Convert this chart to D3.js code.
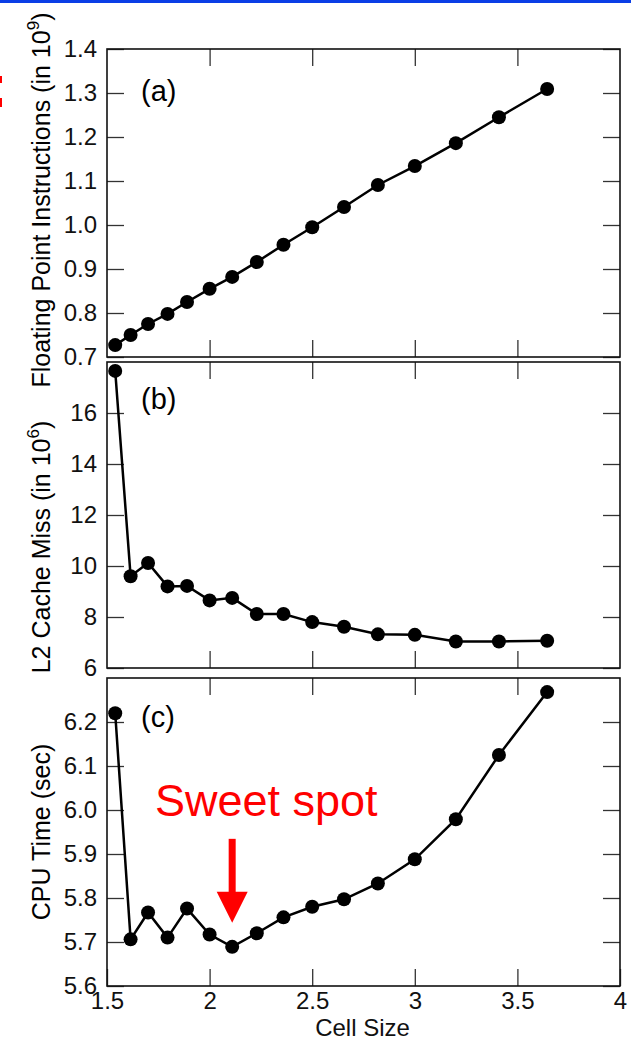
<!DOCTYPE html>
<html>
<head>
<meta charset="utf-8">
<script src="https://cdn.jsdelivr.net/npm/d3@7"></script>
<style>
  body { margin: 0; background: #fff; }
  svg { display: block; font-family: "Liberation Sans", Arial, Helvetica, sans-serif; }
</style>
</head>
<body>
<svg></svg>
<script>
// cell size (x) shared by the three panels
var cellSize = [1.54, 1.615, 1.70, 1.795, 1.89, 2.0, 2.11, 2.23, 2.36, 2.5, 2.655, 2.82, 3.0, 3.2, 3.41, 3.645];
var flops = [0.727, 0.750, 0.775, 0.798, 0.825, 0.855, 0.882, 0.916, 0.955, 0.995, 1.041, 1.091, 1.134, 1.186, 1.245, 1.309];
var cacheMiss = [17.65, 9.6, 10.12, 9.2, 9.22, 8.65, 8.75, 8.12, 8.12, 7.8, 7.62, 7.32, 7.3, 7.04, 7.04, 7.07];
var cpuTime = [6.22, 5.706, 5.767, 5.71, 5.776, 5.717, 5.689, 5.72, 5.756, 5.78, 5.797, 5.833, 5.888, 5.979, 6.125, 6.268];

var xTicks = [1.5, 2, 2.5, 3, 3.5, 4];
var flopsTicks = [0.7, 0.8, 0.9, 1.0, 1.1, 1.2, 1.3, 1.4];
var missTicks = [6, 8, 10, 12, 14, 16];
var cpuTicks = [5.6, 5.7, 5.8, 5.9, 6.0, 6.1, 6.2];

var width = 631, height = 1042;
var left = 107, right = 620, tickLen = 17;

var svg = d3.select('svg')
  .attr('width', width)
  .attr('height', height);

svg.append('rect').attr('x', 0).attr('y', 0).attr('width', width).attr('height', 3).attr('fill', '#0b3ee6');
// bits of red from the slide edge
svg.append('rect').attr('x', 0).attr('y', 76).attr('width', 2).attr('height', 7).attr('fill', '#f00');
svg.append('rect').attr('x', 0).attr('y', 98).attr('width', 2).attr('height', 9).attr('fill', '#f00');

var x = d3.scaleLinear().domain([1.5, 4]).range([left, right]);

var panels = [
  { name: '(a)', values: flops, domain: [0.7, 1.4], ticks: flopsTicks, fmt: d3.format('.1f'),
    top: 49, bottom: 357, title: 'Floating Point Instructions (in 10', sup: '9', titleY: 200, labelY: 101 },
  { name: '(b)', values: cacheMiss, domain: [6, 18], ticks: missTicks, fmt: d3.format('d'),
    top: 362, bottom: 668, title: 'L2 Cache Miss (in 10', sup: '6', titleY: 547, labelY: 409 },
  { name: '(c)', values: cpuTime, domain: [5.6, 6.3], ticks: cpuTicks, fmt: d3.format('.1f'),
    top: 678, bottom: 986, title: 'CPU Time (sec)', sup: null, titleY: 832, labelY: 727 }
];

function styleAxis(g) {
  g.select('.domain').remove();
  g.selectAll('line').attr('stroke', '#333').attr('stroke-width', 1.3);
  g.selectAll('text').attr('fill', '#111');
  g.attr('font-size', 24).attr('font-family', null);
}

panels.forEach(function (p, i) {
  var y = d3.scaleLinear().domain(p.domain).range([p.bottom, p.top]);
  var g = svg.append('g');

  g.append('g')
    .attr('transform', 'translate(' + left + ',0)')
    .call(d3.axisLeft(y).tickValues(p.ticks).tickSize(-tickLen).tickPadding(10).tickFormat(p.fmt))
    .call(styleAxis);
  g.append('g')
    .attr('transform', 'translate(' + right + ',0)')
    .call(d3.axisRight(y).tickValues(p.ticks).tickSize(-tickLen).tickFormat(''))
    .call(styleAxis);
  g.append('g')
    .attr('transform', 'translate(0,' + p.top + ')')
    .call(d3.axisTop(x).tickValues(xTicks.slice(1, -1)).tickSize(-tickLen).tickFormat(''))
    .call(styleAxis);
  g.append('g')
    .attr('transform', 'translate(0,' + p.bottom + ')')
    .call(d3.axisBottom(x).tickValues(i == 2 ? xTicks : xTicks.slice(1, -1)).tickSize(-tickLen).tickPadding(6)
      .tickFormat(i == 2 ? d3.format('') : ''))
    .call(styleAxis);

  g.append('rect')
    .attr('x', left).attr('y', p.top)
    .attr('width', right - left).attr('height', p.bottom - p.top)
    .attr('fill', 'none').attr('stroke', '#111').attr('stroke-width', 1.6);

  var pts = cellSize.map(function (c, j) { return [c, p.values[j]]; });
  var line = d3.line().x(function (d) { return x(d[0]); }).y(function (d) { return y(d[1]); });

  g.append('path')
    .attr('d', line(pts))
    .attr('fill', 'none').attr('stroke', '#000').attr('stroke-width', 2.5);

  g.selectAll('circle')
    .data(pts)
    .enter()
    .append('circle')
    .attr('cx', function (d) { return x(d[0]); })
    .attr('cy', function (d) { return y(d[1]); })
    .attr('r', 7)
    .attr('fill', '#000');

  g.append('text')
    .attr('x', 141).attr('y', p.labelY)
    .attr('font-size', 29)
    .text(p.name);

  var t = g.append('text')
    .attr('transform', 'translate(50,' + p.titleY + ') rotate(-90)')
    .attr('text-anchor', 'middle')
    .attr('font-size', 25)
    .text(p.title);
  if (p.sup) {
    t.append('tspan').attr('font-size', 17).attr('dy', -11).text(p.sup);
    t.append('tspan').attr('dy', 11).text(')');
  }

  // sweet spot arrow on the cpu time panel
  if (i == 2) {
    var iMin = d3.minIndex(p.values);
    var ax = x(cellSize[iMin]);
    var tip = y(p.values[iMin]) - 24;
    g.append('rect')
      .attr('x', ax - 3.5).attr('y', tip - 84)
      .attr('width', 7).attr('height', 54)
      .attr('fill', '#f00');
    g.append('path')
      .attr('d', 'M' + (ax - 15.5) + ',' + (tip - 31) + 'L' + (ax + 15.5) + ',' + (tip - 31) + 'L' + ax + ',' + tip + 'Z')
      .attr('fill', '#f00');
    g.append('text')
      .attr('x', 155).attr('y', 816)
      .attr('font-size', 45)
      .attr('fill', '#f00')
      .text('Sweet spot');
  }
});

svg.append('text')
  .attr('x', (left + right) / 2 - 1).attr('y', 1036)
  .attr('text-anchor', 'middle')
  .attr('font-size', 24)
  .attr('fill', '#111')
  .text('Cell Size');
</script>
</body>
</html>
